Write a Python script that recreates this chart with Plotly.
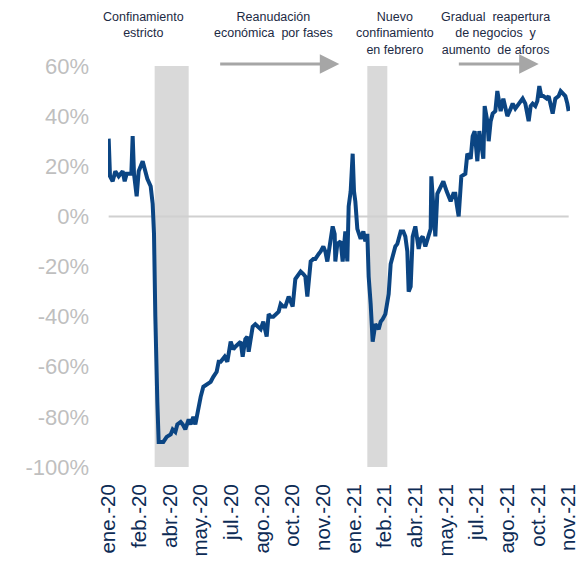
import pandas as pd
import plotly.graph_objects as go

# days since 2020-01-01 and variation (%)
dias = [0, 2, 6, 10, 15, 21, 24, 27, 31, 34, 36, 38, 42, 45, 51, 54, 58, 63,
        66, 68, 69, 70, 73, 75, 82, 87, 93, 96, 100, 103, 108, 111, 115, 120,
        123, 127, 130, 135, 138, 142, 148, 153, 157, 162, 165, 168, 174, 178,
        183, 187, 190, 195, 198, 201, 205, 208, 210, 213, 216, 220, 225, 228,
        232, 237, 240, 243, 247, 252, 255, 258, 262, 265, 270, 273, 276, 280,
        285, 288, 292, 295, 298, 303, 307, 310, 315, 318, 322, 325, 328, 333,
        336, 339, 340, 343, 348, 351, 355, 358, 360, 363, 366, 368, 370, 373,
        378, 382, 385, 388, 390, 393, 396, 400, 405, 408, 411, 415, 418, 420,
        423, 427, 430, 433, 438, 442, 445, 448, 450, 453, 456, 460, 465, 468,
        471, 475, 480, 483, 484, 487, 490, 493, 498, 502, 507, 513, 517, 520,
        522, 525, 529, 535, 538, 543, 546, 549, 553, 556, 561, 562, 564, 567,
        568, 570, 573, 576, 580, 583, 588, 592, 595, 598, 603, 606, 610, 613,
        618, 621, 625, 630, 633, 636, 640, 643, 646, 649, 652, 657, 660, 663,
        666, 670, 675, 678, 682, 685, 688, 690]
variacion = [31, 16, 14, 18, 16, 18, 14, 17, 17, 17, 32, 17, 8, 18, 22, 19, 15, 12,
             5, -7, -31, -40, -74, -90, -90, -88, -87, -85, -86, -83, -82, -83, -85, -81,
             -83, -80, -83, -75, -72, -68, -67, -66, -64, -62, -58, -58, -56, -58,
             -50, -53, -52, -51, -50, -56, -49, -48, -54, -49, -44, -43, -44, -45,
             -42, -48, -39, -40, -40, -39, -38, -35, -36, -36, -32, -34, -36, -25,
             -23, -22, -23, -24, -32, -18, -17, -17, -15, -14, -12, -14, -18, -10,
             -4, -7, -18, -11, -10, -18, -6, -18, 4, 10, 25, 10, 6, -5,
             -9, -6, -10, -7, -24, -35, -50, -43, -45, -42, -41, -39, -35, -31,
             -19, -14, -12, -11, -6, -6, -8, -14, -30, -28, -8, -4, -13, -9,
             -8, -12, -7, -5, 16, 5, -8, 9, 12, 14, 10, 6, 9, 9,
             5, 0, 16, 17, 25, 23, 32, 34, 22, 34, 25, 23, 44, 40,
             38, 30, 38, 41, 42, 50, 42, 47, 44, 40, 43, 45, 43, 44,
             46, 47, 45, 38, 44, 45, 44, 46, 52, 48, 48, 47, 48, 44,
             41, 47, 48, 50, 49, 48, 45, 42]

fechas = pd.Timestamp("2020-01-01") + pd.to_timedelta(dias, unit="D")

tick_fechas = pd.date_range("2020-01-01", periods=16, freq="46D")
tick_labels = ["ene.-20", "feb.-20", "abr.-20", "may.-20", "jul.-20", "ago.-20",
               "oct.-20", "nov.-20", "ene.-21", "feb.-21", "abr.-21", "may.-21",
               "jul.-21", "ago.-21", "oct.-21", "nov.-21"]

y_ticks = [-100, -80, -60, -40, -20, 0, 20, 40, 60]
y_labels = ["-100%", "-80%", "-60%", "-40%", "-20%", "0%", "20%", "40%", "60%"]

confinamientos = [("2020-03-10", "2020-04-30"), ("2021-01-23", "2021-02-22")]

fig = go.Figure()

for ini, fin in confinamientos:
    fig.add_shape(type="rect", xref="x", yref="y", x0=ini, x1=fin, y0=-100, y1=60,
                  fillcolor="#d9d9d9", line_width=0, layer="below")

fig.add_shape(type="line", xref="x", yref="y", x0=fechas[0], x1=fechas[-1], y0=0, y1=0,
              line=dict(color="#d0d0d0", width=2), layer="below")

fig.add_trace(go.Scatter(x=fechas, y=variacion, mode="lines",
                         line=dict(color="#0b4583", width=4)))

txt_font = dict(family="Liberation Sans, Arial", size=12.5, color="#1c2a44")
notas = [
    ("2020-02-22", "Confinamiento<br>estricto"),
    ("2020-09-04", "Reanudación<br>económica  por fases"),
    ("2021-03-05", "Nuevo<br>confinamiento<br>en febrero"),
    ("2021-08-03", "Gradual  reapertura<br>de negocios  y<br>aumento  de aforos"),
]
for xpos, texto in notas:
    fig.add_annotation(x=xpos, xref="x", y=1.145, yref="paper", yanchor="top",
                       text=texto, showarrow=False, font=txt_font, align="center")

# arrows sit just above the plot top, so y is in paper units
flechas = [("2020-06-14", "2020-12-12"), ("2021-06-07", "2021-10-07")]
for ini, fin in flechas:
    fig.add_annotation(x=fin, y=1.005, xref="x", yref="paper", ax=ini, ay=0,
                       axref="x", ayref="pixel", text="", showarrow=True,
                       arrowhead=2, arrowsize=1.3, arrowwidth=3, arrowcolor="#a6a6a6")

fig.update_layout(
    width=576, height=567,
    margin=dict(l=108, r=6, t=66, b=100),
    plot_bgcolor="white", paper_bgcolor="white",
    showlegend=False,
    font=dict(family="Liberation Sans, Arial"),
)
fig.update_xaxes(
    range=["2019-12-31", "2021-11-23"],
    tickvals=tick_fechas, ticktext=tick_labels, tickangle=-90,
    tickfont=dict(size=20.5, color="#0d2b55"),
    showgrid=False, zeroline=False, showline=False, ticks="",
    automargin=False, ticklabeloverflow="allow", ticklabelstandoff=12,
)
fig.update_yaxes(
    range=[-100, 60], tickvals=y_ticks, ticktext=y_labels,
    tickfont=dict(size=22, color="#bfbfbf"),
    showgrid=False, zeroline=False, showline=False, ticks="",
    automargin=False, ticklabelstandoff=18,
)

# drop the page's default body margin so the figure sits at the window corner
fig.write_html("out.html", config={"displayModeBar": False},
               post_script="document.body.style.margin = '0';")
